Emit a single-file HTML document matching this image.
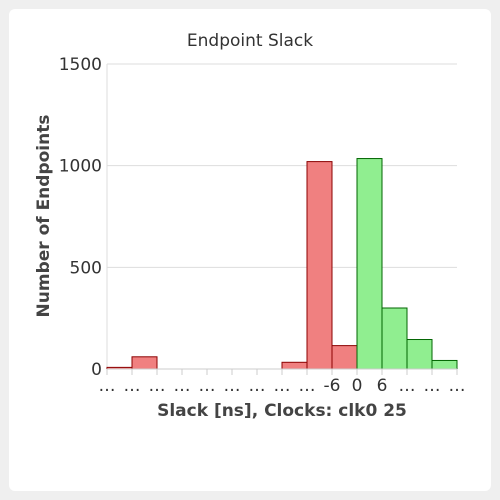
<!DOCTYPE html>
<html><head><meta charset="utf-8"><style>
body{margin:0;background:#efefef;width:500px;height:500px;overflow:hidden;font-family:"DejaVu Sans","Liberation Sans",sans-serif}
#card{position:absolute;left:9px;top:9px;width:482px;height:482px;background:#fff;border-radius:6px}
</style></head><body>
<div id="card"></div>
<svg id="chart" width="500" height="500" style="position:absolute;left:0;top:0"></svg>
<script>
const binLabels=["…","…","…","…","…","…","…","…","…","-6","0","6","…","…","…"];
const counts=[8,60,0,0,0,0,0,33,1020,115,1035,300,145,42];
const negative=[true,true,true,true,true,true,true,true,true,true,false,false,false,false];
const yTicks=[0,500,1000,1500];
const NS="http://www.w3.org/2000/svg";
const svg=document.getElementById('chart');
const x0=107,x1=457,yTop=64,yBot=369,yMax=1500;
const bw=(x1-x0)/counts.length;
const X=i=>x0+i*bw;
const Y=v=>yBot-(v/yMax)*(yBot-yTop);
function mk(t,a,txt){const e=document.createElementNS(NS,t);for(const k in a)e.setAttribute(k,a[k]);if(txt!==undefined)e.textContent=txt;svg.appendChild(e);return e;}
yTicks.forEach(v=>{
  const g=mk('line',{x1:x0,x2:x1,y1:Y(v),y2:Y(v),stroke:'#ddd','stroke-width':1});
  
  
  const t=mk('text',{x:x0-5,y:Y(v)+6,'text-anchor':'end','font-size':17,fill:'#333'},v);
  
  
});
mk('line',{x1:x0,x2:x0,y1:yTop,y2:yBot,stroke:'#ddd'});
counts.forEach((c,i)=>{
  if(c<=0)return;
  const r=mk('rect',{x:X(i),y:Y(c),width:bw,height:yBot-Y(c),fill:negative[i]?'#f08080':'#90ee90',stroke:negative[i]?'#8b0000':'#006400','stroke-width':1});
  
  
});
mk('line',{x1:x0,x2:x1,y1:yBot,y2:yBot,stroke:'#ccc'});
binLabels.forEach((l,i)=>{
  mk('line',{x1:X(i),x2:X(i),y1:yBot,y2:yBot+6,stroke:'#ccc'});
  const t=mk('text',{x:X(i),y:yBot+22,'text-anchor':'middle','font-size':17,fill:'#333'},l);
  
  
});
const ti=mk('text',{x:250,y:46,'text-anchor':'middle','font-size':17,fill:'#333'},'Endpoint Slack');


const xt=mk('text',{x:282,y:416,'text-anchor':'middle','font-size':17,'font-weight':'bold',fill:'#444'},'Slack [ns], Clocks: clk0 25');


const yt=mk('text',{x:0,y:0,'text-anchor':'middle','font-size':17,'font-weight':'bold',fill:'#444',transform:'translate(49,216) rotate(-90)'},'Number of Endpoints');


</script>
</body></html>
